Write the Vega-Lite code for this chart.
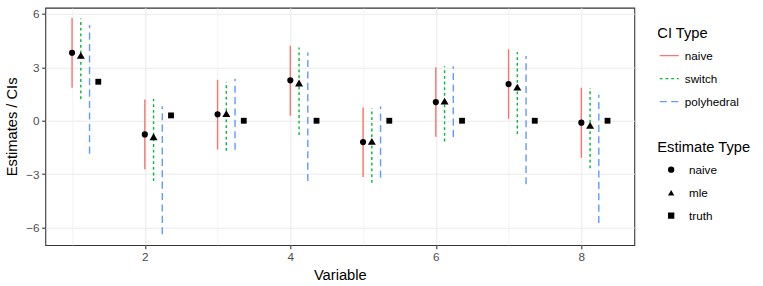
{
  "$schema": "https://vega.github.io/schema/vega-lite/v6.json",
  "width": 589,
  "height": 237.3,
  "autosize": {"type": "none"},
  "padding": {"left": 45.3, "top": 7.7, "right": 128.7, "bottom": 41},
  "background": "white",
  "config": {
    "font": "Liberation Sans",
    "view": {"stroke": "#333333", "strokeWidth": 1.07},
    "axis": {
      "domain": false,
      "tickColor": "#333333",
      "tickWidth": 1.07,
      "tickSize": 3.7,
      "labelColor": "#4D4D4D",
      "labelFontSize": 11.7,
      "labelFont": "Liberation Sans",
      "titleFont": "Liberation Sans",
      "titleFontSize": 14.7,
      "titleFontWeight": "normal",
      "titleColor": "black",
      "gridColor": "#EBEBEB"
    },
    "legend": {
      "titleFont": "Liberation Sans",
      "titleFontSize": 14.7,
      "titleFontWeight": "normal",
      "titleColor": "black",
      "labelFont": "Liberation Sans",
      "labelFontSize": 11.7,
      "labelColor": "black",
      "padding": 0,
      "rowPadding": 0,
      "clipHeight": 22.7,
      "titlePadding": 3.3
    }
  },
  "datasets": {
    "ci": [
      {"variable": 1, "ci": "naive", "lower": 1.85, "upper": 5.77},
      {"variable": 1, "ci": "switch", "lower": 1.22, "upper": 5.75},
      {"variable": 1, "ci": "polyhedral", "lower": -1.85, "upper": 5.38},
      {"variable": 2, "ci": "naive", "lower": -2.73, "upper": 1.2},
      {"variable": 2, "ci": "switch", "lower": -3.39, "upper": 1.22},
      {"variable": 2, "ci": "polyhedral", "lower": -6.38, "upper": 0.81},
      {"variable": 3, "ci": "naive", "lower": -1.61, "upper": 2.3},
      {"variable": 3, "ci": "switch", "lower": -1.69, "upper": 2.17},
      {"variable": 3, "ci": "polyhedral", "lower": -1.63, "upper": 2.36},
      {"variable": 4, "ci": "naive", "lower": 0.28, "upper": 4.21},
      {"variable": 4, "ci": "switch", "lower": -0.8, "upper": 4.12},
      {"variable": 4, "ci": "polyhedral", "lower": -3.39, "upper": 3.84},
      {"variable": 5, "ci": "naive", "lower": -3.16, "upper": 0.75},
      {"variable": 5, "ci": "switch", "lower": -3.48, "upper": 0.71},
      {"variable": 5, "ci": "polyhedral", "lower": -3.2, "upper": 0.81},
      {"variable": 6, "ci": "naive", "lower": -0.9, "upper": 3.0},
      {"variable": 6, "ci": "switch", "lower": -1.16, "upper": 3.06},
      {"variable": 6, "ci": "polyhedral", "lower": -0.92, "upper": 3.06},
      {"variable": 7, "ci": "naive", "lower": 0.11, "upper": 4.01},
      {"variable": 7, "ci": "switch", "lower": -0.75, "upper": 3.86},
      {"variable": 7, "ci": "polyhedral", "lower": -3.57, "upper": 3.63},
      {"variable": 8, "ci": "naive", "lower": -2.08, "upper": 1.85},
      {"variable": 8, "ci": "switch", "lower": -2.67, "upper": 1.84},
      {"variable": 8, "ci": "polyhedral", "lower": -5.75, "upper": 1.46}
    ],
    "est": [
      {"variable": 1, "estimate": "naive", "value": 3.82},
      {"variable": 1, "estimate": "mle", "value": 3.67},
      {"variable": 1, "estimate": "truth", "value": 2.19},
      {"variable": 2, "estimate": "naive", "value": -0.77},
      {"variable": 2, "estimate": "mle", "value": -0.9},
      {"variable": 2, "estimate": "truth", "value": 0.3},
      {"variable": 3, "estimate": "naive", "value": 0.36},
      {"variable": 3, "estimate": "mle", "value": 0.4},
      {"variable": 3, "estimate": "truth", "value": 0},
      {"variable": 4, "estimate": "naive", "value": 2.27},
      {"variable": 4, "estimate": "mle", "value": 2.12},
      {"variable": 4, "estimate": "truth", "value": 0},
      {"variable": 5, "estimate": "naive", "value": -1.2},
      {"variable": 5, "estimate": "mle", "value": -1.16},
      {"variable": 5, "estimate": "truth", "value": 0},
      {"variable": 6, "estimate": "naive", "value": 1.05},
      {"variable": 6, "estimate": "mle", "value": 1.1},
      {"variable": 6, "estimate": "truth", "value": 0},
      {"variable": 7, "estimate": "naive", "value": 2.06},
      {"variable": 7, "estimate": "mle", "value": 1.89},
      {"variable": 7, "estimate": "truth", "value": 0},
      {"variable": 8, "estimate": "naive", "value": -0.11},
      {"variable": 8, "estimate": "mle", "value": -0.26},
      {"variable": 8, "estimate": "truth", "value": 0}
    ]
  },
  "layer": [
    {
      "data": {"name": "ci"},
      "transform": [{"filter": "datum.ci === 'naive'"}],
      "mark": {"type": "rule", "strokeWidth": 1.42, "xOffset": 0},
      "encoding": {
        "x": {
          "field": "variable", "type": "quantitative", "title": "Variable",
          "scale": {"domain": [0.632, 8.728], "nice": false, "zero": false},
          "axis": {
            "values": [1, 2, 3, 4, 5, 6, 7, 8],
            "format": "d",
            "labelExpr": "datum.value % 2 === 0 ? datum.label : ''",
            "labelPadding": 2.5,
            "titlePadding": 5,
            "gridWidth": {"condition": {"test": "datum.value % 2 === 0", "value": 1.07}, "value": 0.53},
            "tickOpacity": {"condition": {"test": "datum.value % 2 === 0", "value": 1}, "value": 0}
          }
        },
        "y": {
          "field": "lower", "type": "quantitative", "title": "Estimates / CIs",
          "scale": {"domain": [-6.98, 6.35], "nice": false, "zero": false},
          "axis": {
            "values": [-6, -4.5, -3, -1.5, 0, 1.5, 3, 4.5, 6],
            "labelExpr": "datum.value % 3 === 0 ? datum.label : ''",
            "labelPadding": 2.5,
            "titlePadding": 6,
            "gridWidth": {"condition": {"test": "datum.value % 3 === 0", "value": 1.07}, "value": 0.53},
            "tickOpacity": {"condition": {"test": "datum.value % 3 === 0", "value": 1}, "value": 0}
          }
        },
        "y2": {"field": "upper"},
        "color": {
          "field": "ci", "type": "nominal", "title": "CI Type",
          "scale": {"domain": ["naive", "switch", "polyhedral"], "range": ["#F8766D", "#00BA38", "#619CFF"]},
          "legend": {"orient": "none", "legendX": 612, "legendY": 18.6, "symbolType": "stroke", "symbolSize": 361, "symbolStrokeWidth": 1.42, "symbolOffset": 1.5, "labelOffset": 5}
        },
        "strokeDash": {
          "field": "ci", "type": "nominal", "title": "CI Type",
          "scale": {"domain": ["naive", "switch", "polyhedral"], "range": [[1, 0], [2.8, 2.9], [7.1, 4.3]]}
        }
      }
    },
    {
      "data": {"name": "ci"},
      "transform": [{"filter": "datum.ci === 'switch'"}],
      "mark": {"type": "rule", "strokeWidth": 1.42, "xOffset": 8.74},
      "encoding": {
        "x": {"field": "variable", "type": "quantitative"},
        "y": {"field": "lower", "type": "quantitative"},
        "y2": {"field": "upper"},
        "color": {"field": "ci", "type": "nominal", "title": "CI Type"},
        "strokeDash": {"field": "ci", "type": "nominal", "title": "CI Type"}
      }
    },
    {
      "data": {"name": "ci"},
      "transform": [{"filter": "datum.ci === 'polyhedral'"}],
      "mark": {"type": "rule", "strokeWidth": 1.42, "xOffset": 17.47},
      "encoding": {
        "x": {"field": "variable", "type": "quantitative"},
        "y": {"field": "lower", "type": "quantitative"},
        "y2": {"field": "upper"},
        "color": {"field": "ci", "type": "nominal", "title": "CI Type"},
        "strokeDash": {"field": "ci", "type": "nominal", "title": "CI Type"}
      }
    },
    {
      "mark": {"type": "rule", "color": "black", "strokeWidth": 1.1},
      "encoding": {"y": {"datum": 0}}
    },
    {
      "data": {"name": "est"},
      "transform": [{"filter": "datum.estimate === 'naive'"}],
      "mark": {"type": "point", "filled": true, "color": "black", "opacity": 1, "size": 38, "xOffset": 0},
      "encoding": {
        "x": {"field": "variable", "type": "quantitative"},
        "y": {"field": "value", "type": "quantitative"},
        "shape": {
          "field": "estimate", "type": "nominal", "title": "Estimate Type",
          "scale": {"domain": ["naive", "mle", "truth"], "range": ["circle", "triangle-up", "square"]},
          "legend": {"orient": "none", "legendX": 612, "legendY": 132.6, "symbolSize": 40, "symbolFillColor": "black", "symbolStrokeWidth": 0, "symbolOffset": 8, "labelOffset": 12}
        }
      }
    },
    {
      "data": {"name": "est"},
      "transform": [{"filter": "datum.estimate === 'mle'"}],
      "mark": {"type": "point", "filled": true, "color": "black", "opacity": 1, "size": 64, "xOffset": 8.74},
      "encoding": {
        "x": {"field": "variable", "type": "quantitative"},
        "y": {"field": "value", "type": "quantitative"},
        "shape": {"field": "estimate", "type": "nominal", "title": "Estimate Type"}
      }
    },
    {
      "data": {"name": "est"},
      "transform": [{"filter": "datum.estimate === 'truth'"}],
      "mark": {"type": "point", "filled": true, "color": "black", "opacity": 1, "size": 34, "xOffset": 26.2},
      "encoding": {
        "x": {"field": "variable", "type": "quantitative"},
        "y": {"field": "value", "type": "quantitative"},
        "shape": {"field": "estimate", "type": "nominal", "title": "Estimate Type"}
      }
    }
  ]
}
